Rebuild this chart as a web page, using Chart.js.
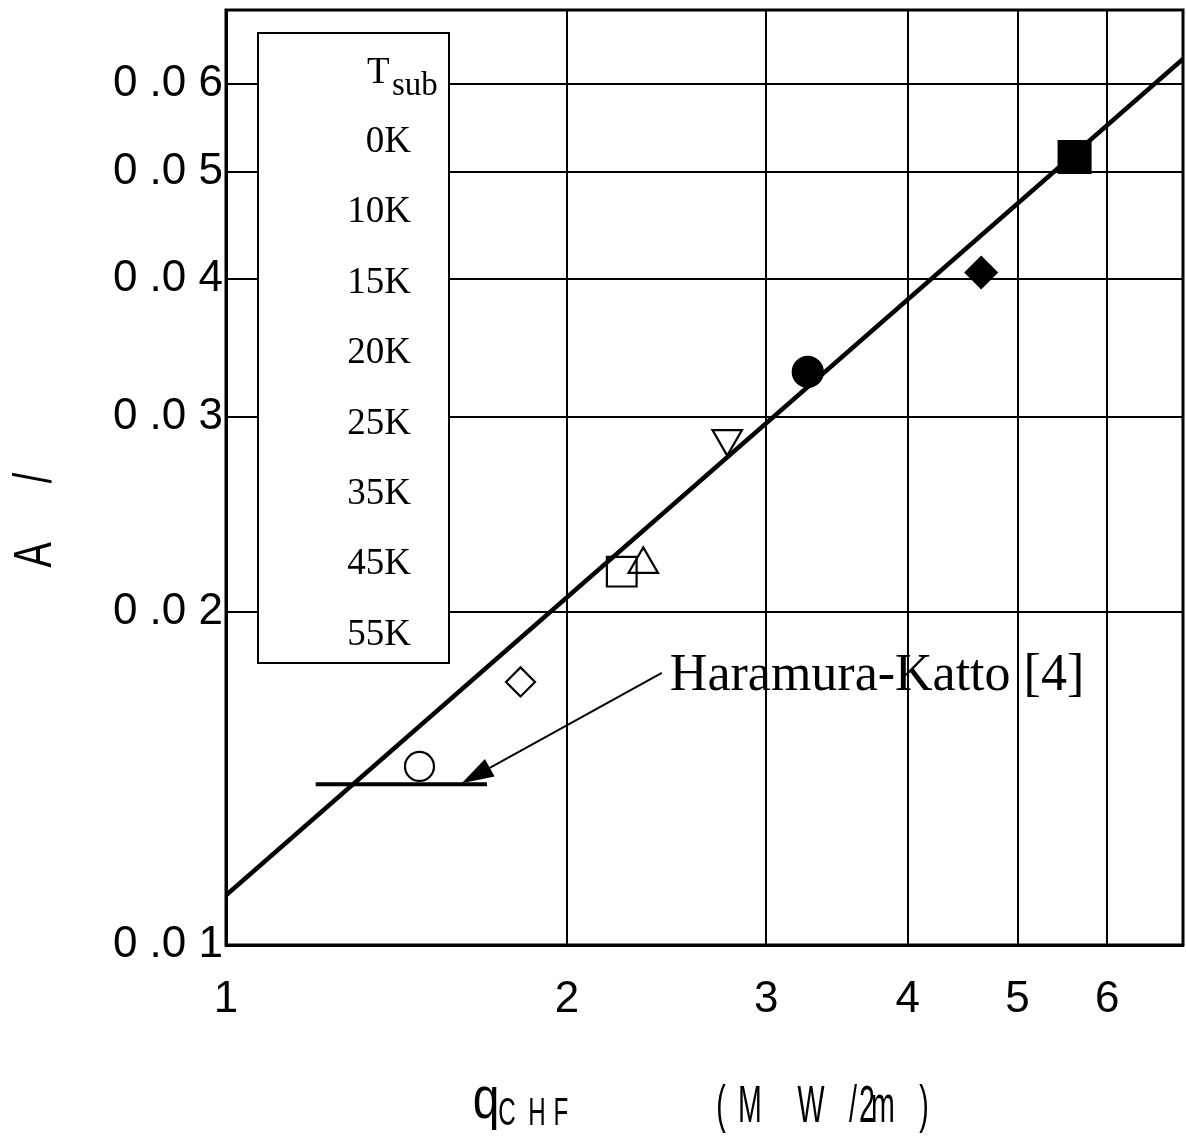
<!DOCTYPE html>
<html>
<head>
<meta charset="utf-8">
<script src="https://cdn.jsdelivr.net/npm/chart.js@4.4.0/dist/chart.umd.min.js"></script>
<style>
  html, body { margin: 0; padding: 0; background: #fff; }
  #wrap { width: 1186px; height: 1138px; position: relative; }
</style>
</head>
<body>
<div id="wrap"><canvas id="chfChart"></canvas></div>
<script>
// data (log-log)
const tsubLabels = ['0K', '10K', '15K', '20K', '25K', '35K', '45K', '55K'];
const qchfValues = [1.482, 1.820, 2.236, 2.336, 2.771, 3.264, 4.644, 5.615];
const aValues = [0.0145, 0.01729, 0.02175, 0.02208, 0.02869, 0.03296, 0.04053, 0.05155];

// correlation line through the data
const fitX = [1, 7];
const fitY = [0.01109, 0.06322];

// Haramura-Katto [4] segment + arrow (tail, tip)
const hkX = [1.20, 1.70];
const hkY = [0.01397, 0.01397];
const arrowX = [2.426, 1.615];
const arrowY = [0.01762, 0.01400];

const xTicks = [1, 2, 3, 4, 5, 6];
const yTicks = [0.01, 0.02, 0.03, 0.04, 0.05, 0.06];
const yTickLabels = ['0 .0 1', '0 .0 2', '0 .0 3', '0 .0 4', '0 .0 5', '0 .0 6'];

// marker look for each Tsub
const markerStyles = [
    { style: 'circle', r: 14.5, filled: false, rot: 0 },
    { style: 'rectRot', r: 14.5, filled: false, rot: 0 },
    { style: 'rect', r: 21, filled: false, rot: 0 },
    { style: 'triangle', r: 17, filled: false, rot: 0 },
    { style: 'triangle', r: 17, filled: false, rot: 180 },
    { style: 'circle', r: 15, filled: true, rot: 0 },
    { style: 'rectRot', r: 15.5, filled: true, rot: 0 },
    { style: 'rect', r: 22.5, filled: true, rot: 0 }
];

const SANS = '"Liberation Sans", Arial, sans-serif';
const SERIF = '"Liberation Serif", "Times New Roman", serif';
Chart.defaults.font.family = SANS;
Chart.defaults.color = '#000';

const pointSets = tsubLabels.map((lab, i) => ({
    label: lab,
    data: [{ x: qchfValues[i], y: aValues[i] }],
    pointStyle: markerStyles[i].style,
    rotation: markerStyles[i].rot,
    pointRadius: markerStyles[i].r,
    borderColor: '#000',
    borderWidth: 2.2,
    backgroundColor: markerStyles[i].filled ? '#000' : 'rgba(0,0,0,0)',
    showLine: false
}));

const fitSet = {
    label: 'fit',
    data: fitX.map((x, i) => ({ x: x, y: fitY[i] })),
    showLine: true,
    borderColor: '#000',
    borderWidth: 4.5,
    pointRadius: 0
};

const hkSet = {
    label: 'Haramura-Katto',
    data: hkX.map((x, i) => ({ x: x, y: hkY[i] })),
    showLine: true,
    borderColor: '#000',
    borderWidth: 4,
    borderCapStyle: 'butt',
    pointRadius: 0
};

function condensed(ctx, text, cx, baseline, font, sx) {
    ctx.save();
    ctx.translate(cx, baseline);
    ctx.scale(sx, 1);
    ctx.font = font;
    ctx.textAlign = 'center';
    ctx.textBaseline = 'alphabetic';
    ctx.fillStyle = '#000';
    ctx.fillText(text, 0, 0);
    ctx.restore();
}

// no extra room for overhanging tick labels: the plot box is fixed
function noPad(s) {
    s.paddingTop = 0;
    s.paddingBottom = 0;
    s.paddingLeft = 0;
    s.paddingRight = 0;
}

// frame, legend box, arrow note and axis titles
const decorPlugin = {
    id: 'decor',
    afterDatasetsDraw(chart) {
        const ctx = chart.ctx;
        const a = chart.chartArea;
        const xs = chart.scales.x, ys = chart.scales.y;

        // legend box (labels only, as in the original)
        const bx = a.left + 32, by = a.top + 23, bw = 191, bh = 630;
        ctx.save();
        ctx.fillStyle = '#fff';
        ctx.fillRect(bx, by, bw, bh);
        ctx.strokeStyle = '#000';
        ctx.lineWidth = 2;
        ctx.strokeRect(bx, by, bw, bh);
        ctx.fillStyle = '#000';
        ctx.textBaseline = 'alphabetic';
        ctx.textAlign = 'left';
        ctx.font = '37px ' + SERIF;
        ctx.fillText('T', bx + 109, by + 50);
        ctx.font = '33px ' + SERIF;
        ctx.fillText('sub', bx + 134, by + 62);
        ctx.font = '37px ' + SERIF;
        ctx.textAlign = 'right';
        chart.data.datasets.slice(0, tsubLabels.length).forEach((ds, i) => {
            ctx.fillText(ds.label, bx + 153, by + 119 + i * 70.4);
        });

        // arrow to the Haramura-Katto segment
        const tx = xs.getPixelForValue(arrowX[0]), ty = ys.getPixelForValue(arrowY[0]);
        const hx = xs.getPixelForValue(arrowX[1]), hy = ys.getPixelForValue(arrowY[1]);
        const ang = Math.atan2(hy - ty, hx - tx);
        const headLen = 32, headW = 10;
        const bxp = hx - Math.cos(ang) * headLen, byp = hy - Math.sin(ang) * headLen;
        ctx.strokeStyle = '#000';
        ctx.lineWidth = 2;
        ctx.beginPath();
        ctx.moveTo(tx, ty);
        ctx.lineTo(bxp, byp);
        ctx.stroke();
        ctx.beginPath();
        ctx.moveTo(hx, hy);
        ctx.lineTo(bxp + Math.sin(ang) * headW, byp - Math.cos(ang) * headW);
        ctx.lineTo(bxp - Math.sin(ang) * headW, byp + Math.cos(ang) * headW);
        ctx.closePath();
        ctx.fill();

        ctx.font = '52px ' + SERIF;
        ctx.textAlign = 'left';
        ctx.fillText('Haramura-Katto [4]', tx + 8, ty + 17);
        ctx.restore();
    },
    afterDraw(chart) {
        const ctx = chart.ctx;
        const a = chart.chartArea;
        ctx.save();
        ctx.strokeStyle = '#000';
        ctx.lineWidth = 3;
        ctx.strokeRect(a.left, a.top, a.right - a.left, a.bottom - a.top);

        // y title, rotated and narrow
        ctx.translate(31, 520);
        ctx.rotate(-Math.PI / 2);
        condensed(ctx, 'A', -35, 20, '54px ' + SANS, 0.7);
        condensed(ctx, '/', 42, 20, '54px ' + SANS, 0.7);
        ctx.restore();

        // x title
        condensed(ctx, 'q', 486, 1118, '60px ' + SANS, 0.8);
        condensed(ctx, 'C', 507, 1125, '39px ' + SANS, 0.62);
        condensed(ctx, 'H', 537, 1125, '39px ' + SANS, 0.62);
        condensed(ctx, 'F', 561, 1125, '39px ' + SANS, 0.62);
        const unitFont = '52px ' + SANS;
        condensed(ctx, '(', 721, 1122, unitFont, 0.55);
        condensed(ctx, 'M', 750, 1122, unitFont, 0.55);
        condensed(ctx, 'W', 811, 1122, unitFont, 0.55);
        condensed(ctx, '/', 853, 1122, unitFont, 0.55);
        condensed(ctx, '2', 867, 1122, unitFont, 0.55);
        condensed(ctx, 'm', 883, 1122, unitFont, 0.55);
        condensed(ctx, ')', 924, 1122, unitFont, 0.55);
    }
};

new Chart(document.getElementById('chfChart'), {
    type: 'scatter',
    data: { datasets: [...pointSets, fitSet, hkSet] },
    options: {
        responsive: true,
        maintainAspectRatio: false,
        animation: false,
        events: [],
        layout: { autoPadding: false, padding: { top: 10, right: 3, left: 0, bottom: 0 } },
        plugins: {
            legend: { display: false },
            tooltip: { enabled: false }
        },
        scales: {
            x: {
                type: 'logarithmic',
                position: 'bottom',
                min: 1,
                max: 7,
                afterBuildTicks: s => { s.ticks = xTicks.map(v => ({ value: v })); },
                afterFit: s => { s.height = 193; noPad(s); },
                ticks: {
                    autoSkip: false,
                    maxRotation: 0,
                    padding: 28,
                    font: { size: 44 },
                    color: '#000',
                    callback: v => String(v)
                },
                grid: { color: '#000', lineWidth: 2, drawTicks: false },
                border: { display: true, color: '#000', width: 3 },
                title: { display: false }
            },
            y: {
                type: 'logarithmic',
                min: 0.01,
                max: 0.07,
                afterBuildTicks: s => { s.ticks = yTicks.map(v => ({ value: v })); },
                afterFit: s => { s.width = 226; noPad(s); },
                ticks: {
                    autoSkip: false,
                    padding: 3,
                    font: { size: 44 },
                    color: '#000',
                    callback: (v) => {
                        const i = yTicks.findIndex(t => Math.abs(t - v) < 1e-9);
                        return i >= 0 ? yTickLabels[i] : '';
                    }
                },
                grid: { color: '#000', lineWidth: 2, drawTicks: false },
                border: { display: true, color: '#000', width: 3 },
                title: { display: false }
            }
        }
    },
    plugins: [decorPlugin]
});
</script>
</body>
</html>
